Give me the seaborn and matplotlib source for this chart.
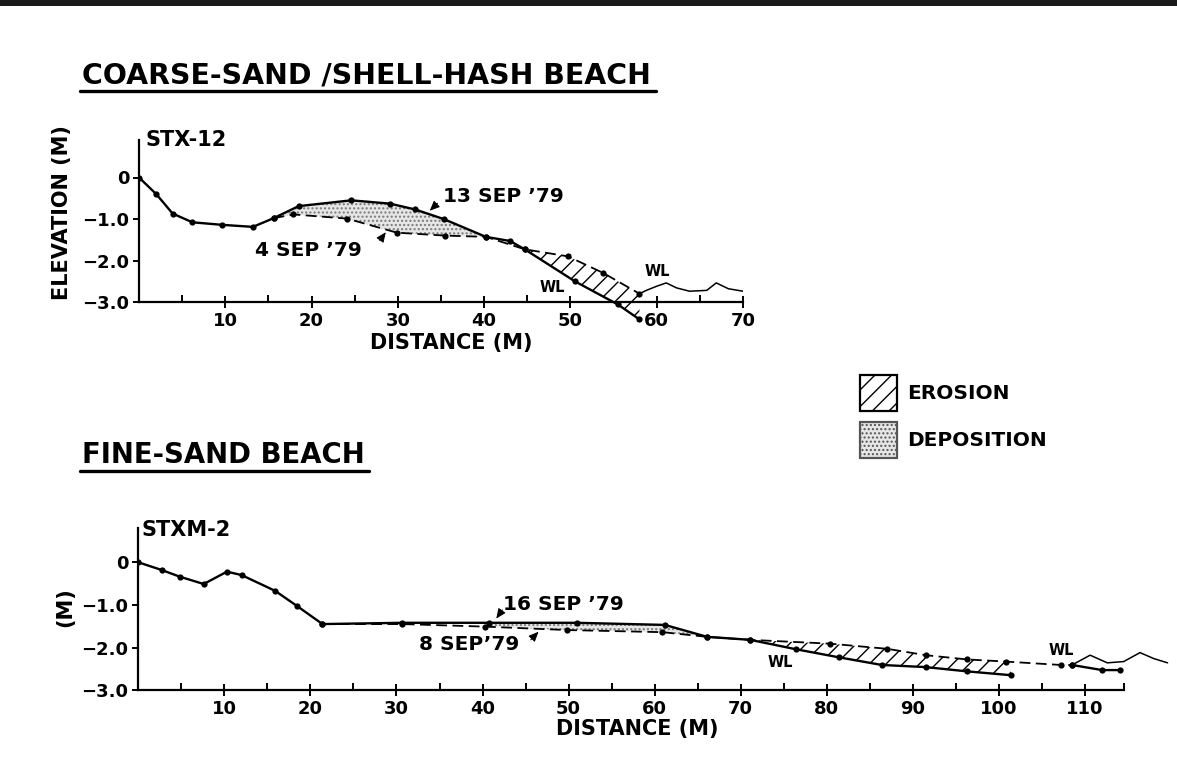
import numpy as np
import matplotlib
matplotlib.use("Agg")
import matplotlib.pyplot as plt
import matplotlib.ticker as mticker
from matplotlib.patches import Patch, Rectangle
from matplotlib.lines import Line2D
import seaborn as sns

# ── Data ───────────────────────────────────────────────────────────────────────
# Coarse-sand / shell-hash beach, STX-12
stx_13sep_x = [0, 2.0, 3.9, 6.2, 9.6, 13.2, 15.6, 18.5, 24.6, 29.1, 32.0, 35.3, 40.2, 43.0, 44.7, 50.5, 55.5, 58.0]
stx_13sep_y = [0, -0.40, -0.87, -1.08, -1.14, -1.19, -0.98, -0.69, -0.55, -0.63, -0.77, -1.00, -1.43, -1.53, -1.73, -2.50, -3.06, -3.42]
stx_4sep_x = [15.6, 17.9, 24.1, 29.9, 35.5, 40.2, 44.7, 49.7, 53.8, 58.0]
stx_4sep_y = [-0.98, -0.89, -0.99, -1.33, -1.40, -1.43, -1.73, -1.90, -2.30, -2.80]
stx_wl_x = [58.0, 58.8, 60.0, 61.1, 62.3, 63.8, 65.8, 66.9, 68.3, 70.0]
stx_wl_y = [-2.80, -2.72, -2.62, -2.54, -2.66, -2.74, -2.72, -2.54, -2.68, -2.74]

# Fine-sand beach, STXM-2
stxm_16sep_x = [0, 2.7, 4.85, 7.6, 10.3, 12.0, 15.9, 18.4, 21.4, 30.7, 40.7, 51.0, 61.2, 66.1, 71.1, 76.4, 81.4, 86.4, 91.5, 96.3, 101.4]
stxm_16sep_y = [0, -0.18, -0.34, -0.51, -0.22, -0.30, -0.67, -1.02, -1.45, -1.42, -1.42, -1.42, -1.47, -1.75, -1.82, -2.04, -2.23, -2.41, -2.46, -2.56, -2.65]
stxm_16sep_tail_x = [108.5, 112.0, 114.1]
stxm_16sep_tail_y = [-2.41, -2.53, -2.53]
stxm_8sep_x = [21.4, 30.7, 40.3, 49.8, 60.9, 66.1, 71.1, 80.4, 87.0, 91.5, 96.3, 100.8, 107.2, 108.5]
stxm_8sep_y = [-1.45, -1.45, -1.51, -1.59, -1.64, -1.75, -1.82, -1.91, -2.03, -2.18, -2.28, -2.33, -2.41, -2.41]
stxm_wl_x = [108.5, 110.6, 112.6, 114.5, 116.4, 118.0, 119.6]
stxm_wl_y = [-2.41, -2.18, -2.36, -2.33, -2.12, -2.26, -2.36]

y_ticks = [0, -1, -2, -3]
y_labels = ["0", "\u22121.0", "\u22122.0", "\u22123.0"]
top_xticks = [10, 20, 30, 40, 50, 60, 70]
bot_xticks = [10, 20, 30, 40, 50, 60, 70, 80, 90, 100, 110]

# ── Style ──────────────────────────────────────────────────────────────────────
sns.set_theme(style="white")
plt.rcParams.update({
    "font.family": ["DejaVu Sans"],
    "font.weight": "bold",
    "text.color": "black",
    "axes.labelcolor": "black",
    "xtick.color": "black",
    "ytick.color": "black",
    "figure.facecolor": "white",
    "axes.facecolor": "none",
    "hatch.linewidth": 1.0,
})
W, H = 1177, 776


def fx(px):
    return px / W


def fy(py):
    return 1 - py / H


def profile(ax, x, y, dashed=False):
    sns.lineplot(x=x, y=y, ax=ax, color="black", sort=False, estimator=None,
                 marker="o", markersize=4.5, markeredgewidth=0,
                 linewidth=1.3 if dashed else 1.7,
                 linestyle=(0, (6, 3)) if dashed else "-")


def wave(ax, x, y):
    sns.lineplot(x=x, y=y, ax=ax, color="black", sort=False, estimator=None, linewidth=1.1)


def fill_between_profiles(ax, xa, ya, xb, yb, x0, x1, kind):
    xx = np.union1d(np.array(xa, float), np.array(xb, float))
    xx = xx[(xx >= x0) & (xx <= x1)]
    ya_i = np.interp(xx, xa, ya)
    yb_i = np.interp(xx, xb, yb)
    if kind == "erosion":
        ax.fill_between(xx, ya_i, yb_i, facecolor="white", edgecolor="black",
                        hatch="//", linewidth=0, zorder=1)
    else:
        ax.fill_between(xx, ya_i, yb_i, facecolor="#e6e6e6", edgecolor="#7a7a7a",
                        hatch="....", linewidth=0, zorder=1)


def style_axis(ax, xmax_spine, xticks, ytop):
    sns.despine(ax=ax)
    ax.spines["bottom"].set_position(("data", -3.0))
    ax.spines["bottom"].set_bounds(0, xmax_spine)
    ax.spines["left"].set_bounds(-3.0, ytop)
    for s in ("bottom", "left"):
        ax.spines[s].set_linewidth(1.6)
        ax.spines[s].set_color("black")
    ax.set_xticks(xticks)
    ax.set_xticklabels([str(t) for t in xticks])
    minor = [t - 5 for t in xticks] + ([xmax_spine] if xmax_spine not in xticks else [])
    ax.xaxis.set_minor_locator(mticker.FixedLocator(minor))
    ax.set_yticks(y_ticks)
    ax.set_yticklabels(y_labels)
    ax.tick_params(axis="x", which="major", direction="inout", length=8, width=1.4,
                   labelsize=13, pad=3, colors="black", bottom=True)
    ax.tick_params(axis="x", which="minor", direction="in", length=5, width=1.4, bottom=True)
    ax.tick_params(axis="y", direction="out", length=4, width=1.4, labelsize=13, pad=3,
                   colors="black", left=True)
    for lab in ax.get_xticklabels() + ax.get_yticklabels():
        lab.set_fontweight("bold")
    ax.set_xlabel("")
    ax.set_ylabel("")


def arrow(ax, tip, tail):
    ax.annotate("", xy=tip, xytext=tail,
                arrowprops=dict(arrowstyle="-|>,head_length=0.5,head_width=0.22",
                                color="black", lw=0.7, shrinkA=0, shrinkB=0))


fig = plt.figure(figsize=(W / 100, H / 100), dpi=100)

# ── Top panel: STX-12 ──────────────────────────────────────────────────────────
ax1 = fig.add_axes([fx(139), fy(326.9), 604 / W, 186.75 / H])
ax1.set_xlim(0, 70)
ax1.set_ylim(-3.6, 0.9)
fill_between_profiles(ax1, stx_13sep_x, stx_13sep_y, stx_4sep_x, stx_4sep_y, 15.6, 40.2, "deposition")
fill_between_profiles(ax1, stx_4sep_x, stx_4sep_y, stx_13sep_x, stx_13sep_y, 44.7, 58.0, "erosion")
profile(ax1, stx_4sep_x, stx_4sep_y, dashed=True)
profile(ax1, stx_13sep_x, stx_13sep_y)
wave(ax1, stx_wl_x, stx_wl_y)
style_axis(ax1, 70, top_xticks, 0.9)

ax1.text(0.7, 0.9, "STX-12", fontsize=15, fontweight="bold", va="center", ha="left")
ax1.text(35.2, -0.45, "13 SEP \u201979", fontsize=14.5, fontweight="bold", va="center", ha="left")
arrow(ax1, (33.7, -0.8), (34.6, -0.62))
ax1.text(13.4, -1.75, "4 SEP \u201979", fontsize=14.5, fontweight="bold", va="center", ha="left")
arrow(ax1, (28.6, -1.32), (27.9, -1.52))
ax1.text(47.9, -2.65, "WL", fontsize=10.5, fontweight="bold", va="center", ha="center")
ax1.text(60.1, -2.27, "WL", fontsize=10.5, fontweight="bold", va="center", ha="center")

# ── Bottom panel: STXM-2 ───────────────────────────────────────────────────────
ax2 = fig.add_axes([fx(138.3), fy(702.9), 1032.7 / W, 174.7 / H])
ax2.set_xlim(0, 120)
ax2.set_ylim(-3.3, 0.8)
fill_between_profiles(ax2, stxm_16sep_x, stxm_16sep_y, stxm_8sep_x, stxm_8sep_y, 38.0, 66.1, "deposition")
fill_between_profiles(ax2, stxm_8sep_x, stxm_8sep_y, stxm_16sep_x, stxm_16sep_y, 71.1, 101.4, "erosion")
profile(ax2, stxm_8sep_x, stxm_8sep_y, dashed=True)
profile(ax2, stxm_16sep_x, stxm_16sep_y)
profile(ax2, stxm_16sep_tail_x, stxm_16sep_tail_y)
wave(ax2, stxm_wl_x, stxm_wl_y)
style_axis(ax2, 114.5, bot_xticks, 0.8)

ax2.text(0.4, 0.76, "STXM-2", fontsize=15, fontweight="bold", va="center", ha="left")
ax2.text(42.4, -0.98, "16 SEP \u201979", fontsize=14.5, fontweight="bold", va="center", ha="left")
arrow(ax2, (41.6, -1.32), (42.3, -1.12))
ax2.text(32.6, -1.94, "8 SEP\u201979", fontsize=14.5, fontweight="bold", va="center", ha="left")
arrow(ax2, (46.5, -1.63), (45.6, -1.82))
ax2.text(74.6, -2.36, "WL", fontsize=10.5, fontweight="bold", va="center", ha="center")
ax2.text(107.3, -2.08, "WL", fontsize=10.5, fontweight="bold", va="center", ha="center")

# ── Titles, axis labels ────────────────────────────────────────────────────────
t1 = fig.text(fx(82), fy(75), "COARSE-SAND /SHELL-HASH BEACH", fontsize=20.4, fontweight="bold",
              ha="left", va="center")
t2 = fig.text(fx(82), fy(455), "FINE-SAND BEACH", fontsize=19.8, fontweight="bold",
              ha="left", va="center")
fig.text(fx(62), fy(213), "ELEVATION (M)", fontsize=15, fontweight="bold", rotation=90,
         ha="center", va="center")
fig.text(fx(65), fy(607), "(M)", fontsize=15, fontweight="bold", rotation=90,
         ha="center", va="center")
fig.text(fx(451), fy(343), "DISTANCE (M)", fontsize=15, fontweight="bold", ha="center", va="center")
fig.text(fx(637), fy(729), "DISTANCE (M)", fontsize=15, fontweight="bold", ha="center", va="center")

# underline the titles
fig.canvas.draw()
inv = fig.transFigure.inverted()
for t, uy in ((t1, 91), (t2, 471)):
    bb = t.get_window_extent().transformed(inv)
    fig.add_artist(Line2D([bb.x0 - 0.002, bb.x1 + 0.004], [fy(uy), fy(uy)],
                          color="black", lw=2.4, transform=fig.transFigure))

# ── Legend ─────────────────────────────────────────────────────────────────────
handles = [Patch(facecolor="white", edgecolor="black", hatch="//", linewidth=1.6, label="EROSION"),
           Patch(facecolor="#e6e6e6", edgecolor="#555555", hatch="....", linewidth=1.6, label="DEPOSITION")]
leg = fig.legend(handles=handles, loc="upper left", bbox_to_anchor=(fx(852), fy(367)),
                 frameon=False, handlelength=1.85, handleheight=2.35, handletextpad=0.5,
                 labelspacing=0.55, prop={"size": 14.5, "weight": "bold"}, borderaxespad=0)

# dark scanner edge at top of the sheet
fig.add_artist(Rectangle((0, fy(6)), 1, 6 / H, transform=fig.transFigure,
                         facecolor="#1a1a1a", edgecolor="none"))

fig.savefig("out.png", dpi=100)
